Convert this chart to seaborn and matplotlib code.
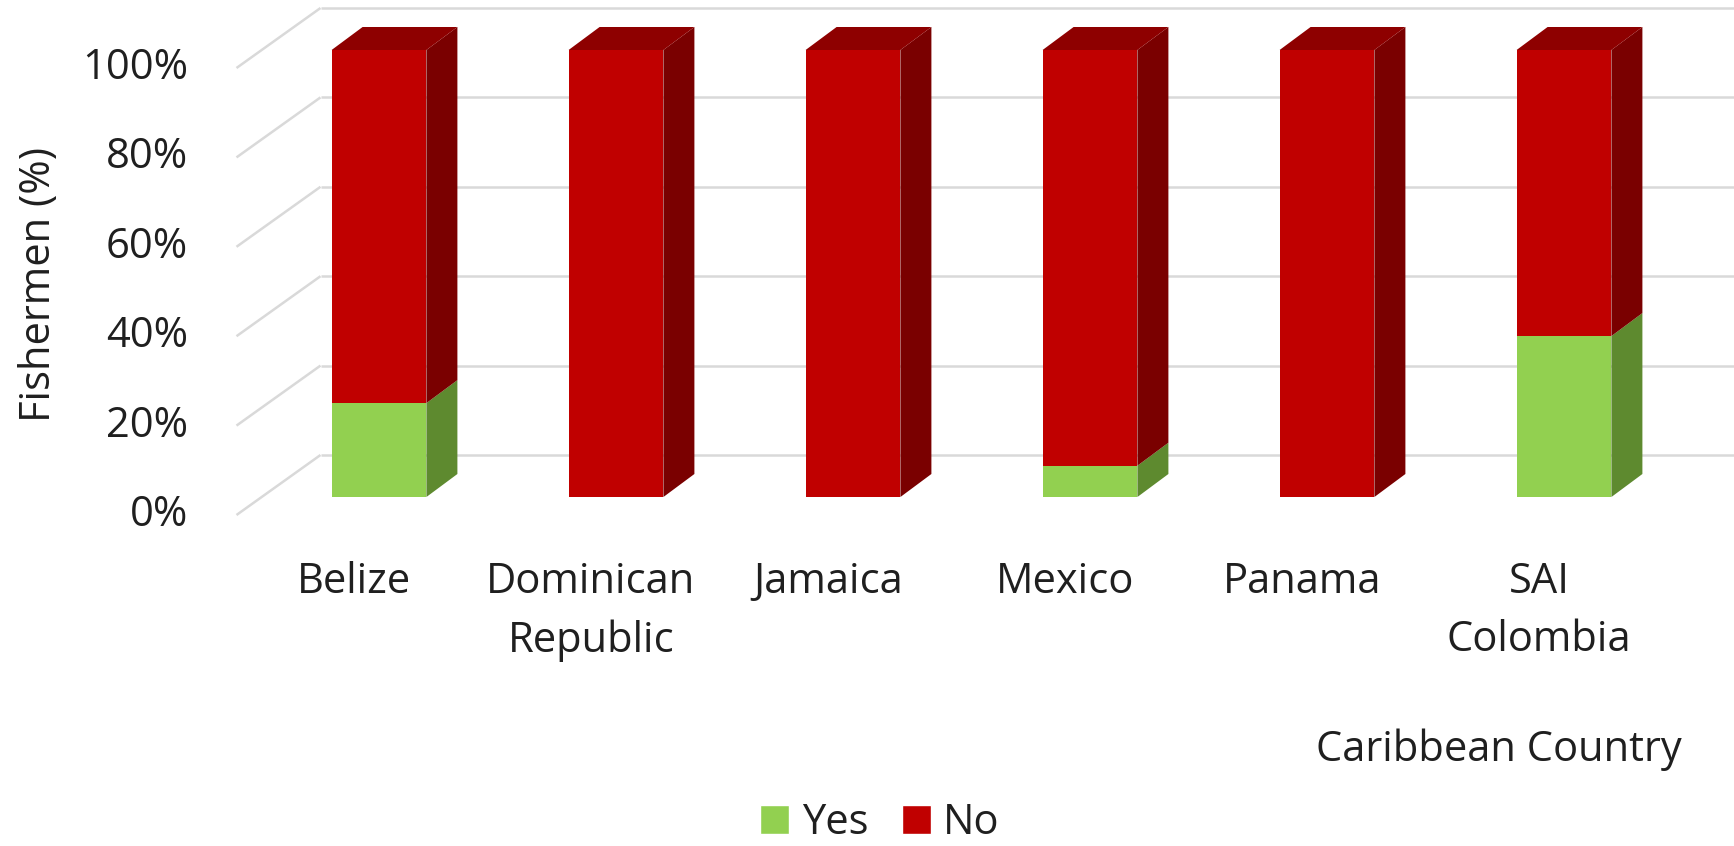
import numpy as np
import pandas as pd
import seaborn as sns
import matplotlib.pyplot as plt
from matplotlib.patches import Polygon, Patch

# data
countries = ['Belize', 'Dominican\nRepublic', 'Jamaica', 'Mexico', 'Panama', 'SAI\nColombia']
yes = [21, 0, 0, 7, 0, 36]
no = [79, 100, 100, 93, 100, 64]
yticks = [0, 20, 40, 60, 80, 100]

green, green_side = '#92D050', '#5E8A2F'
red, red_side, red_top = '#C00000', '#7A0000', '#8E0000'
grid_col = '#D9D9D9'
text_col = '#1F1F1F'

sns.set_style('white')
plt.rcParams['font.family'] = ['Open Sans', 'DejaVu Sans']

W, H = 1734, 846
# pixel layout of the front face of the bars
X0, XSTEP = 379, 237
Y0, YPER = 497, 4.47

def dx(px):
    return px / XSTEP

def dy(px):
    return px / YPER

fig = plt.figure(figsize=(W / 100, H / 100), dpi=100)
ax = fig.add_axes([0, 0, 1, 1])

df = pd.DataFrame({'country': countries, 'yes': yes, 'no': no})
df['total'] = df['yes'] + df['no']

sns.barplot(data=df, x='country', y='total', color=red, saturation=1,
            width=0.4, linewidth=0, ax=ax, zorder=3)
sns.barplot(data=df, x='country', y='yes', color=green, saturation=1,
            width=0.4, linewidth=0, ax=ax, zorder=3)

n = len(countries)
red_bars = ax.patches[:n]
green_bars = ax.patches[n:2 * n]

# depth of the bars
DX, DY = dx(31), dy(23)
for rb, gb in zip(red_bars, green_bars):
    x0 = rb.get_x()
    x1 = x0 + rb.get_width()
    top = rb.get_height()
    mid = gb.get_height()
    if mid > 0:
        ax.add_patch(Polygon([(x1, 0), (x1, mid), (x1 + DX, mid + DY), (x1 + DX, DY)],
                             closed=True, facecolor=green_side, lw=0, zorder=2))
    ax.add_patch(Polygon([(x1, mid), (x1, top), (x1 + DX, top + DY), (x1 + DX, mid + DY)],
                         closed=True, facecolor=red_side, lw=0, zorder=2))
    ax.add_patch(Polygon([(x0, top), (x1, top), (x1 + DX, top + DY), (x0 + DX, top + DY)],
                         closed=True, facecolor=red_top, lw=0, zorder=2))

# walls: back gridlines + diagonal floor/side lines
xl = -0.5
xright = (W - X0) / XSTEP
for L in yticks:
    ax.plot([xl + dx(-24), xl + dx(60)], [L + dy(-18), L + dy(42)],
            color=grid_col, lw=1.8, zorder=0, solid_capstyle='butt')
    ax.plot([xl + dx(60), xright], [L + dy(42), L + dy(42)],
            color=grid_col, lw=1.8, zorder=0, solid_capstyle='butt')
    ax.text((188 - X0) / XSTEP, L + dy(-18), f'{L}%', ha='right', va='center',
            fontsize=30, color=text_col)

for i, c in enumerate(countries):
    ax.text(i + dx(-25), dy(-64), c, ha='center', va='top', fontsize=30,
            color=text_col, linespacing=1.5)

ax.set_xlim(-X0 / XSTEP, (W - X0) / XSTEP)
ax.set_ylim((Y0 - H) / YPER, Y0 / YPER)
ax.axis('off')

fig.text(1499 / W, 1 - 750 / H, 'Caribbean Country', ha='center', va='center',
         fontsize=30, color=text_col)
fig.text(39 / W, 1 - 285 / H, 'Fishermen (%)', ha='center', va='center',
         rotation=90, fontsize=30, color=text_col)

handles = [Patch(facecolor=green, label='Yes'), Patch(facecolor=red, label='No')]
fig.legend(handles=handles, loc='center', bbox_to_anchor=(880 / W, 1 - 823 / H),
           ncol=2, frameon=False, fontsize=30, handlelength=0.7, handleheight=0.7,
           handletextpad=0.3, columnspacing=0.8, labelcolor=text_col)

fig.savefig('out.png', dpi=100)
